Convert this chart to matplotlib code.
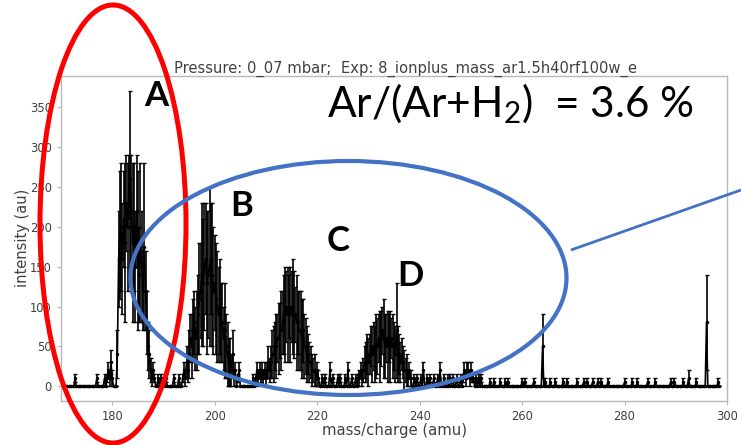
import numpy as np
import matplotlib
matplotlib.use("Agg")
import matplotlib.pyplot as plt
from matplotlib.patches import Ellipse

# ---------------- data ----------------
STEP = 0.25          # m/z sampling of the spectrum
MZ_START, MZ_END = 170.25, 298.5

# Peak A
peakA_start = 178.5
peakA_vals = [10, 0, 10, 20, 10, 30, 10, 0, 0, 0, 40, 160, 190, 200, 160, 210, 180, 230, 200, 250,
              260, 220, 180, 200, 150, 220, 170, 140, 180, 150, 120, 175, 120, 80, 50, 40, 20, 10, 20, 10, 0]
peakA_errs = [5, 0, 5, 10, 10, 15, 10, 0, 0, 0, 30, 60, 80, 80, 70, 60, 100, 60, 80, 40,
              110, 70, 100, 80, 70, 70, 100, 60, 100, 70, 50, 105, 50, 40, 30, 30, 15, 10, 10, 5, 0]

# Peak B
peakB_start = 193.75
peakB_vals = [10, 20, 10, 30, 20, 40, 60, 50, 70, 80, 60, 70, 90, 110, 120, 140, 130, 150, 160, 130,
              140, 150, 160, 140, 120, 130, 110, 100, 90, 100, 80, 80, 60, 70, 50, 40, 30, 30, 20, 40,
              10, 20, 0, 10, 20, 0]
peakB_errs = [5, 10, 10, 20, 15, 30, 30, 40, 40, 40, 40, 50, 50, 70, 60, 90, 80, 80, 70, 90,
              80, 100, 70, 90, 80, 60, 70, 70, 60, 60, 50, 50, 40, 60, 40, 40, 30, 30, 20, 30,
              10, 10, 0, 5, 10, 0]

# Peak C
peakC_start = 207.5
peakC_vals = [10, 0, 10, 20, 10, 20, 10, 20, 10, 20, 10, 20, 30, 20, 30, 40, 40, 50, 50, 60,
              60, 70, 70, 80, 90, 90, 100, 90, 100, 90, 100, 100, 90, 90, 80, 80, 70, 70, 60, 70,
              50, 50, 40, 40, 30, 30, 20, 20, 20, 10, 20, 10, 0]
peakC_errs = [5, 0, 5, 10, 10, 10, 5, 10, 10, 10, 10, 10, 20, 15, 20, 30, 35, 30, 40, 30,
              45, 35, 50, 40, 50, 60, 45, 60, 40, 60, 45, 60, 55, 35, 60, 40, 50, 50, 50, 40,
              40, 35, 35, 25, 25, 20, 20, 15, 20, 10, 10, 10, 0]

# Peak D
peakD_start = 228.0
peakD_vals = [10, 10, 20, 10, 20, 30, 30, 40, 30, 40, 50, 40, 50, 40, 50, 50, 60, 50, 60, 70,
              60, 50, 60, 50, 60, 50, 60, 50, 50, 40, 70, 40, 40, 30, 40, 30, 20, 20, 20, 10,
              20, 10, 0]
peakD_errs = [5, 10, 10, 10, 15, 20, 25, 25, 30, 25, 25, 35, 30, 35, 40, 35, 30, 45, 35, 30,
              50, 40, 30, 45, 30, 45, 25, 40, 30, 35, 60, 35, 25, 25, 20, 20, 25, 15, 20, 10,
              10, 10, 0]

# isolated small signals on the baseline (m/z, value, error)
blip_mz = [172.75, 177.0, 189.0, 189.5, 190.5, 192.0, 193.0,
           221.0, 221.5, 222.5, 223.0, 224.0, 224.5, 225.5, 226.0, 226.75, 227.5,
           239.0, 239.5, 240.25, 240.75, 241.5, 242.0, 242.75, 243.5, 244.0, 244.75, 245.5,
           246.0, 246.5, 247.25, 248.0, 248.5, 248.75, 249.0, 249.25, 249.5, 249.75, 250.0,
           250.25, 250.5, 251.0, 251.5, 252.0,
           253.75, 254.5, 255.75, 256.75, 257.25, 260.0, 260.5, 262.25, 264.0, 264.5, 265.5,
           266.5, 268.0, 268.75, 270.75, 272.0, 272.75, 273.75, 274.75, 275.5, 276.75, 280.0,
           281.5, 282.5, 284.5, 286.0, 289.0, 289.75, 291.5, 292.5, 294.0, 296.0, 298.25]
blip_vals = [10, 10, 10, 10, 10, 10, 10,
             10, 10, 20, 10, 10, 10, 10, 20, 10, 10,
             10, 10, 10, 20, 10, 10, 10, 10, 20, 10, 10,
             10, 10, 10, 10, 10, 20, 10, 20, 20, 10, 20,
             10, 10, 10, 10, 10,
             5, 5, 5, 5, 5, 5, 5, 5, 50, 5, 5,
             5, 5, 5, 5, 5, 5, 5, 5, 5, 5, 5,
             5, 5, 5, 5, 5, 5, 5, 10, 5, 80, 5]
blip_errs = [5, 5, 5, 5, 5, 5, 5,
             5, 5, 10, 5, 5, 5, 5, 10, 5, 5,
             5, 5, 5, 10, 5, 5, 5, 5, 10, 5, 5,
             5, 5, 5, 5, 5, 10, 10, 10, 10, 10, 10,
             5, 5, 5, 5, 5,
             5, 5, 5, 5, 5, 5, 5, 5, 40, 5, 5,
             5, 5, 5, 5, 5, 5, 5, 5, 5, 5, 5,
             5, 5, 5, 5, 5, 5, 5, 10, 5, 60, 5]

title = "Pressure: 0_07 mbar;  Exp: 8_ionplus_mass_ar1.5h40rf100w_e"
xlabel = "mass/charge (amu)"
ylabel = "intensity (au)"
xticks = [180, 200, 220, 240, 260, 280, 300]
yticks = [0, 50, 100, 150, 200, 250, 300, 350]
peak_labels = ["A", "B", "C", "D"]
ratio_text = "Ar/(Ar+H$_2$)  = 3.6 %"

# ---------------- assemble spectrum ----------------
mz = np.round(np.arange(MZ_START, MZ_END + STEP / 2, STEP), 2)
inten = np.zeros_like(mz)
err = np.zeros_like(mz)

def put(start, vals, errs):
    i0 = int(round((start - MZ_START) / STEP))
    inten[i0:i0 + len(vals)] = vals
    err[i0:i0 + len(errs)] = errs

for s, v, e in [(peakA_start, peakA_vals, peakA_errs), (peakB_start, peakB_vals, peakB_errs),
                (peakC_start, peakC_vals, peakC_errs), (peakD_start, peakD_vals, peakD_errs)]:
    put(s, v, e)
for m, v, e in zip(blip_mz, blip_vals, blip_errs):
    put(m, [v], [e])

# ---------------- figure ----------------
plt.rcParams["mathtext.fontset"] = "custom"
plt.rcParams["mathtext.rm"] = "Lato"
plt.rcParams["mathtext.it"] = "Lato"

W, H = 741, 445
fig = plt.figure(figsize=(W / 100, H / 100), dpi=100)
ax = fig.add_axes([61 / W, 1 - 401 / H, (727 - 61) / W, (401 - 75.7) / H])

ax.errorbar(mz, inten, yerr=err, color="black", ecolor="black", lw=1.2, elinewidth=1.2,
            marker=".", markersize=3, capsize=1.6, capthick=1.0)

ax.set_xlim(170, 300)
ax.set_ylim(-18.5, 389.5)
ax.set_xticks(xticks)
ax.set_yticks(yticks)
for sp in ax.spines.values():
    sp.set_color("#b8b8b8")
    sp.set_linewidth(1.0)
ax.tick_params(colors="#b8b8b8", labelcolor="#404040", labelsize=8.3, length=3)
ax.set_xlabel(xlabel, fontsize=10.7, color="#404040", labelpad=0)
ax.set_ylabel(ylabel, fontsize=10.5, color="#404040", labelpad=0)

# ---------------- annotation overlay (pixel coordinates) ----------------
ov = fig.add_axes([0, 0, 1, 1])
ov.set_xlim(0, W)
ov.set_ylim(H, 0)
ov.axis("off")
ov.patch.set_alpha(0)

ov.text(405, 73, title, fontsize=10.6, color="#404040", ha="center", va="baseline")

ov.add_patch(Ellipse((113, 224), 146, 438, fill=False, ec="#FF0000", lw=3.6))
ov.add_patch(Ellipse((348.5, 278), 436, 234, fill=False, ec="#4472C4", lw=3.0))
ov.plot([571, 741], [250, 190], color="#4472C4", lw=2.0, solid_capstyle="butt")

for lab, (px, py) in zip(peak_labels, [(156, 96), (242, 206), (338, 241), (410, 276)]):
    ov.text(px, py, lab, fontsize=25, fontweight="bold", family="Lato",
            ha="center", va="center", color="black")

ov.text(327, 104, ratio_text, fontsize=30.5, family="Lato", ha="left", va="center", color="black")

fig.savefig("out.png", dpi=100)
